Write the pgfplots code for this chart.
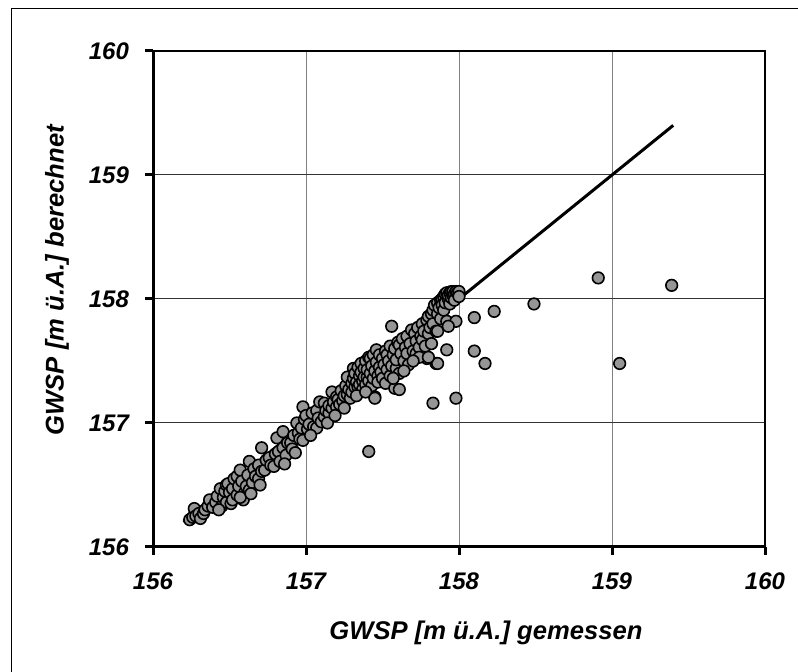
\documentclass[border=0pt]{standalone}
\usepackage{fontspec}
\setmainfont{Liberation Sans}
\usepackage{pgfplots}
\pgfplotsset{compat=1.18}
\definecolor{ptfill}{HTML}{969696}
\definecolor{hgrid}{HTML}{333333}
\definecolor{vgrid}{HTML}{808080}

\begin{document}
\begin{tikzpicture}
\path[use as bounding box] (0,0) rectangle (399pt,336pt);
% outer chart frame
\draw[line width=0.5pt] (5.5pt,0) -- (5.5pt,331.5pt) -- (399pt,331.5pt);
\begin{axis}[
    at={(76.5pt,62.5pt)}, anchor=south west,
    scale only axis, width=306pt, height=248pt,
    xmin=156, xmax=160, ymin=156, ymax=160,
    xtick={156,157,158,159,160}, ytick={156,157,158,159,160},
    clip=false,
    axis line style={line width=1pt},
    tick pos=left, tick align=outside,
    major tick length=4pt,
    every tick/.style={black, line width=1.5pt},
    /pgf/number format/assume math mode=true,
    /pgf/number format/1000 sep={},
    ticklabel style={font=\fontsize{12}{14}\selectfont\bfseries\itshape},
    xticklabel style={yshift=-5.5pt},
    yticklabel style={xshift=-4.5pt},
    xmajorgrids, ymajorgrids,
    x grid style={vgrid, line width=0.5pt},
    y grid style={hgrid, line width=0.5pt},
    xlabel={GWSP [m ü.A.] gemessen},
    ylabel={GWSP [m ü.A.] berechnet},
    label style={font=\fontsize{12.8}{15}\selectfont\bfseries\itshape},
    xlabel style={at={(axis description cs:0.544,-0.173)}, anchor=center},
    ylabel style={at={(axis description cs:-0.157,0.538)}, anchor=center},
]
% 1:1 line
\addplot[black, line width=1.5pt] coordinates {(156.2,156.2) (159.4,159.4)};

% measured vs computed
\addplot[only marks, mark=*, mark size=2.9pt,
         mark options={fill=ptfill, draw=black, line width=0.8pt}] coordinates {
(156.24,156.22) (156.26,156.24) (156.27,156.31) (156.28,156.25) (156.30,156.27)
(156.31,156.23) (156.33,156.27) (156.34,156.30) (156.36,156.33) (156.37,156.38)
(156.39,156.32) (156.41,156.36) (156.42,156.41) (156.44,156.47) (156.45,156.33)
(156.46,156.40) (156.47,156.45) (156.48,156.50) (156.49,156.51) (156.48,156.36)
(156.50,156.44) (156.43,156.30) (156.51,156.35)
(156.52,156.38) (156.52,156.47) (156.53,156.55) (156.55,156.57) (156.55,156.42)
(156.56,156.49) (156.57,156.62) (156.58,156.53) (156.59,156.38) (156.60,156.44)
(156.61,156.49) (156.62,156.58) (156.63,156.69) (156.63,156.46) (156.65,156.52)
(156.66,156.63) (156.67,156.57) (156.69,156.66) (156.69,156.55) (156.71,156.80)
(156.71,156.61) (156.73,156.62) (156.74,156.70) (156.76,156.72) (156.77,156.66)
(156.79,156.65) (156.80,156.75) (156.57,156.40) (156.64,156.43) (156.70,156.50)
(156.81,156.88) (156.82,156.77) (156.83,156.69) (156.85,156.93) (156.85,156.80)
(156.87,156.74) (156.88,156.84) (156.90,156.84) (156.91,156.79) (156.92,156.90)
(156.94,157.00) (156.95,156.92) (156.96,156.87) (156.97,156.96) (156.98,157.13)
(156.98,156.86) (156.99,157.03) (157.00,157.06) (157.01,156.95) (157.02,156.99)
(157.04,157.08) (157.05,156.97) (157.07,156.96) (157.07,157.10) (157.08,157.04)
(157.09,157.17) (157.10,157.01) (156.86,156.67) (156.93,156.76) (157.03,156.90)
(157.12,157.05) (157.12,157.16) (157.13,157.10) (157.15,157.08) (157.15,157.14)
(157.17,157.25) (157.17,157.12) (157.18,157.17) (157.20,157.13) (157.20,157.21)
(157.21,157.19) (157.22,157.15) (157.23,157.26) (157.24,157.18) (157.25,157.22)
(157.26,157.30) (157.27,157.23) (157.27,157.37) (157.28,157.27) (157.29,157.20)
(157.30,157.32) (157.30,157.25) (157.14,157.00) (157.19,157.06) (157.25,157.12)
(157.31,157.44) (157.31,157.36) (157.32,157.29) (157.32,157.40) (157.33,157.33)
(157.34,157.29) (157.34,157.45) (157.35,157.38) (157.35,157.31) (157.36,157.48)
(157.36,157.41) (157.37,157.34) (157.37,157.27) (157.38,157.44) (157.38,157.37)
(157.39,157.50) (157.39,157.31) (157.40,157.37) (157.40,157.43) (157.41,157.53)
(157.41,157.34) (157.42,157.52) (157.42,157.40) (157.43,157.46) (157.43,157.30)
(157.44,157.36) (157.44,157.55) (157.45,157.21) (157.45,157.42) (157.46,157.59)
(157.46,157.49) (157.47,157.38) (157.47,157.33) (157.48,157.45) (157.48,157.55)
(157.49,157.41) (157.50,157.52) (157.50,157.36) (157.33,157.22) (157.39,157.25)
(157.51,157.47) (157.52,157.32) (157.52,157.58) (157.53,157.55) (157.53,157.43)
(157.54,157.50) (157.55,157.38) (157.55,157.62) (157.56,157.78) (157.56,157.46)
(157.57,157.55) (157.58,157.28) (157.58,157.60) (157.59,157.44) (157.59,157.51)
(157.60,157.65) (157.61,157.63) (157.61,157.40) (157.62,157.56) (157.63,157.68)
(157.64,157.50) (157.65,157.61) (157.66,157.56) (157.66,157.70) (157.67,157.47)
(157.68,157.64) (157.69,157.75) (157.70,157.58) (157.57,157.36) (157.64,157.42)
(157.71,157.72) (157.72,157.56) (157.72,157.66) (157.73,157.77) (157.74,157.61)
(157.75,157.70) (157.76,157.67) (157.76,157.80) (157.77,157.74) (157.78,157.62)
(157.79,157.52) (157.79,157.83) (157.80,157.86) (157.80,157.72) (157.81,157.77)
(157.82,157.64) (157.82,157.88) (157.83,157.91) (157.83,157.80) (157.84,157.95)
(157.85,157.74) (157.85,157.48) (157.86,157.97) (157.86,157.88) (157.87,157.93)
(157.88,157.99) (157.88,157.84) (157.74,157.53) (157.70,157.50)
(157.89,158.00) (157.89,157.95) (157.90,158.02) (157.90,157.91) (157.91,158.04)
(157.91,157.97) (157.92,158.05) (157.92,157.82) (157.92,157.59) (157.93,158.00)
(157.93,158.03) (157.94,158.05) (157.94,157.96) (157.95,158.06) (157.95,158.01)
(157.96,158.03) (157.96,158.06) (157.97,158.04) (157.97,157.99) (157.98,158.06)
(157.98,157.82) (157.99,158.05) (158.00,158.06) (158.00,158.02)
(157.41,156.77) (157.83,157.16) (157.98,157.20) (157.86,157.74) (157.93,157.78)
(158.10,157.85) (158.23,157.90) (158.49,157.96) (158.91,158.17) (159.39,158.11)
(158.10,157.58) (158.17,157.48) (157.86,157.48) (157.80,157.53) (159.05,157.48)
(157.61,157.27) (157.45,157.20)
};
% heavier left and bottom axis lines
\draw[black, line width=1.5pt] (rel axis cs:0,1) -- (rel axis cs:0,0) -- (rel axis cs:1,0);
\end{axis}
\end{tikzpicture}
\end{document}
